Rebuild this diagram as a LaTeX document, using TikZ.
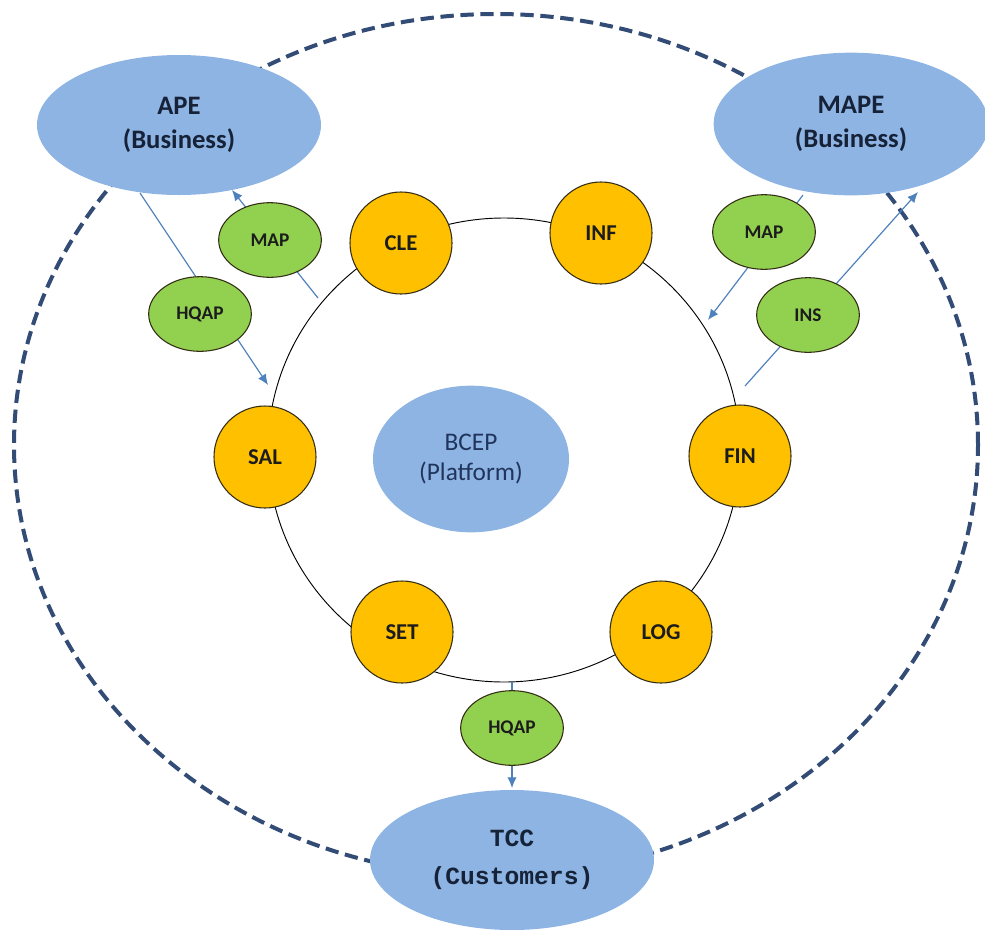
\documentclass[tikz,border=0pt]{standalone}
\usepackage{fontspec}
\setmainfont{Carlito}
\newfontfamily\tccfont{Liberation Mono}
\usetikzlibrary{shapes.geometric,arrows.meta}
\definecolor{bigblue}{RGB}{142,180,227}
\definecolor{orng}{RGB}{255,192,0}
\definecolor{grn}{RGB}{146,208,80}
\definecolor{ringnavy}{RGB}{50,76,118}
\definecolor{arrowblue}{RGB}{79,129,189}
\definecolor{navytext}{RGB}{22,34,56}
\definecolor{bceptext}{RGB}{32,52,92}
\definecolor{nodeborder}{RGB}{50,45,20}
\definecolor{labeltext}{RGB}{28,28,28}
\tikzset{
  bigell/.style={ellipse, fill=bigblue, inner sep=0pt, text=navytext, align=center},
  orb/.style={circle, fill=orng, draw=nodeborder, line width=0.8pt, minimum size=76.5pt, inner sep=0pt,
    font=\bfseries\fontsize{17}{20}\selectfont, text=labeltext},
  gell/.style={ellipse, fill=grn, draw=nodeborder, line width=0.8pt, minimum width=77pt, minimum height=56pt,
    inner sep=0pt, font=\bfseries\fontsize{14.5}{17}\selectfont, text=labeltext},
  arr/.style={draw=arrowblue, line width=0.9pt, -{Latex[length=8pt,width=7pt]}},
  dashring/.style={draw=ringnavy, line width=3pt, dash pattern=on 10pt off 5pt},
  ring/.style={draw=black, line width=0.7pt},
}
\begin{document}
\begin{tikzpicture}[x=0.75pt,y=-0.75pt]
\useasboundingbox (0,0) rectangle (985,929);
% outer dashed ring
\draw[dashring] (496,445) ellipse [x radius=361.5pt, y radius=323.25pt];
% inner ring
\draw[ring] (504,450) ellipse [x radius=177pt, y radius=174pt];
% big blue ellipses
\node[bigell, minimum width=213pt, minimum height=105pt, font=\bfseries\fontsize{20}{25}\selectfont] (APE) at (179,125) {APE\\(Business)};
\node[bigell, minimum width=206pt, minimum height=107pt, font=\bfseries\fontsize{20}{25}\selectfont] (MAPE) at (851,124) {MAPE\\(Business)};
\node[bigell, minimum width=213pt, minimum height=105pt, font=\tccfont\bfseries\fontsize{18.5}{28.5}\selectfont] (TCC) at (512,860) {TCC\\(Customers)};
\node[bigell, minimum width=147pt, minimum height=110pt, text=bceptext, font=\fontsize{19}{22.5}\selectfont] (BCEP) at (471,459) {BCEP\\(Platform)};
% connector end points
\coordinate (hqlS) at (140,193);
\coordinate (hqlE) at (268,385);
\coordinate (maplS) at (318,298);
\coordinate (maplE) at (232,190);
\coordinate (maprS) at (803,195);
\coordinate (maprE) at (708,320);
\coordinate (insS) at (745,386);
\coordinate (insE) at (918,192);
\coordinate (hqbS) at (512,682);
\coordinate (hqbE) at (512,788);
\draw[arr] (hqlS) -- (hqlE);
\draw[arr] (maplS) -- (maplE);
\draw[arr] (maprS) -- (maprE);
\draw[arr] (insS) -- (insE);
\draw[arr] (hqbS) -- (hqbE);
% orange nodes
\node[orb] (CLE) at (401,243) {CLE};
\node[orb] (INF) at (601,233) {INF};
\node[orb] (FIN) at (740,456) {FIN};
\node[orb] (SAL) at (265,457) {SAL};
\node[orb] (SET) at (402,632) {SET};
\node[orb] (LOG) at (661,632) {LOG};
% green nodes
\node[gell] (MAPl) at (270,240) {MAP};
\node[gell] (HQAPl) at (200,314) {HQAP};
\node[gell] (MAPr) at (764,232) {MAP};
\node[gell] (INS) at (808,315) {INS};
\node[gell] (HQAPb) at (512,728) {HQAP};
\end{tikzpicture}
\end{document}
